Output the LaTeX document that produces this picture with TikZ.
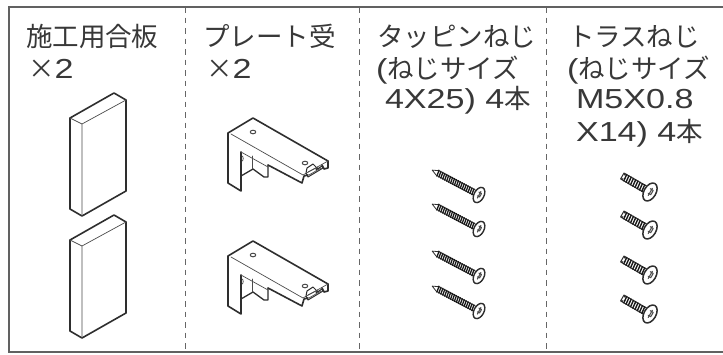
\documentclass[tikz,border=0pt]{standalone}
\usepackage{fontspec}
\newfontfamily\cjk{Noto Sans CJK JP}
\newfontfamily\lat[FakeStretch=1.24]{Liberation Sans}
\newcommand{\latt}[1]{{\lat\fontsize{27.5}{27.5}\selectfont #1}}
\tikzset{
  lbl/.style={inner sep=0pt,outer sep=0pt,anchor=base west,text=black!78,font=\cjk\fontsize{26.5}{26.5}\selectfont},
  frameline/.style={draw=black!62,line width=1.5pt},
  sep/.style={draw=black!60,line width=1pt,dash pattern=on 5.5pt off 5pt},
  heavy/.style={draw=black!82,line width=1.6pt,line join=round,line cap=round},
  thin/.style={draw=black!70,line width=.7pt,line join=round,line cap=round},
}
\newcommand{\ply}[1]{\begin{scope}[yshift=#1]
  \draw[heavy] (70,118)--(114,93)--(126,100)--(126,191)--(82,216)--(70,209)--cycle;
  \draw[thin] (70,118)--(82,124)--(126,100) (82,124)--(82,216);
\end{scope}}
\newcommand{\brk}[1]{\begin{scope}[yshift=#1]
  \draw[heavy] (241,152)--(241,191)--(228,183)--(228,133)--(253,118)--(328,161)--(328,168)--(324,169)--(322,165)
    (268,165)--(302,183)--(304,176)--(308,175);
  \draw[heavy,line width=1.3pt] (241,176)--(253,169)--(264,177)--(268,177)--(268,165);
  \draw[thin] (241,152)--(268,167);
  \draw[thin] (231,134)--(303,175)--(328,161);
  \draw[thin] (252,156)--(252,169);
  \draw[thin,line width=1pt] (253,132) ellipse (2.8 and 1.8);
  \draw[thin,line width=1pt] (305,163) ellipse (2.8 and 1.8);
  \draw[heavy,line width=1pt] (307,168)--(313,164)--(317,168)--(316,170)--(322,166)--(323,168)--(308,177)--(306,173)--cycle;
  \draw[thin] (308,172)--(318,167) (309,175)--(321,168);
  \draw[thin] (242,161) arc (90:-90:1.2 and 2.5);
\end{scope}}
\newcommand{\wscrew}[2]{\begin{scope}[shift={(#1,#2)},rotate=-28]
  \draw[heavy,line width=.8pt] (-53,0)--(-47,-2.6)--(-5,-2.6) (-53,0)--(-47,2.6)--(-5,2.6);
  \foreach \q in {-47,-44.8,...,-7}{\draw[black!90,line width=1.3pt] (\q,-3.5)--(\q+1,3.5);}
  \draw[heavy,fill=white,line width=1.4pt] (0,0) ellipse (5 and 8.2);
  \draw[thin,line width=1pt] (-1.5,-2.5)--(1.5,-2.5)--(1.5,1.5)--(-1,1.5) (0,-4)--(0,3.5);
\end{scope}}
\newcommand{\tscrew}[2]{\begin{scope}[shift={(#1,#2)},rotate=-30]
  \draw[heavy,line width=1pt] (-30,-2)--(-32,-3.4)--(-6,-3.4) (-30,2)--(-32,3.4)--(-6,3.4) (-32,-3.4)--(-32,3.4);
  \foreach \q in {-29,-26.4,...,-8}{\draw[black!90,line width=1.4pt] (\q,-4)--(\q+.8,4);}
  \draw[heavy,fill=white,line width=1.5pt] (0,0) ellipse (6 and 9.8);
  \draw[thin,line width=1pt] (-1.5,-3)--(2,-3)--(2,2)--(-1,2) (.2,-4.5)--(.2,4);
\end{scope}}
\begin{document}
\begin{tikzpicture}[x=1pt,y=-1pt]
\useasboundingbox (0,0) rectangle (723,354);
\fill[white] (0,0) rectangle (723,354);
% separators
\coordinate (s1t) at (185,7); \coordinate (s1b) at (185,352);
\coordinate (s2t) at (359,7); \coordinate (s2b) at (359,352);
\coordinate (s3t) at (546,7); \coordinate (s3b) at (546,352);
\draw[sep] (s1t)--(s1b);
\draw[sep] (s2t)--(s2b);
\draw[sep] (s3t)--(s3b);
% frame
\coordinate (tr) at (723,7); \coordinate (tl) at (9,7);
\coordinate (bl) at (9,352); \coordinate (br) at (723,352);
\draw[frameline] (tr)--(tl)--(bl)--(br);
% labels
\node[lbl] (a1) at (26,46) {施工用合板};
\node[lbl] (a2) at (28,78) {×\latt{2}};
\node[lbl] (b1) at (203,46) {プレート受};
\node[lbl] (b2) at (206,78) {×\latt{2}};
\node[lbl] (c1) at (377,46) {タッピンねじ};
\node[lbl] (c2) at (376,78) {\latt{(}ねじサイズ};
\node[lbl] (c3) at (385,108) {\latt{4X25) 4}本};
\node[lbl] (d1) at (568,46) {トラスねじ};
\node[lbl] (d2) at (567,78) {\latt{(}ねじサイズ};
\node[lbl] (d3) at (576,108) {\latt{M5X0.8}};
\node[lbl] (d4) at (576,141) {\latt{X14) 4}本};
% parts
\ply{0pt}\ply{-122pt}
\brk{0pt}\brk{-123pt}
\wscrew{479}{195}\wscrew{479}{229}\wscrew{479}{276}\wscrew{479}{311}
\tscrew{650}{192}\tscrew{650}{230}\tscrew{650}{275}\tscrew{650}{314}
\end{tikzpicture}
\end{document}
